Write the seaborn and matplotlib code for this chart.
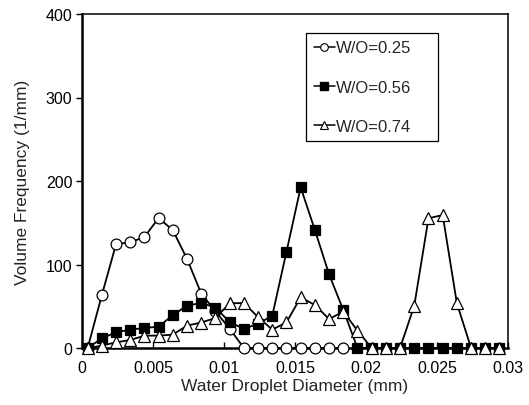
import numpy as np
import pandas as pd
import matplotlib
matplotlib.use("Agg")
import matplotlib.pyplot as plt
import seaborn as sns
from matplotlib.lines import Line2D

sns.set_style("ticks")
plt.rcParams['font.family'] = ['Liberation Sans', 'DejaVu Sans']

# Data (droplet diameter in mm)
diam_025 = [0.0004 + 0.001 * k for k in range(19)]
diam_all = [0.0004 + 0.001 * k for k in range(30)]
freq_025 = [0, 63.5, 124.5, 126.5, 133, 155.7, 141, 106.6, 65, 44, 23, 0, 0, 0, 0, 0, 0, 0, 0]
freq_056 = [0, 11.6, 18.8, 22, 24, 25.5, 39.5, 50.7, 54, 48.5, 31, 23, 29, 38.7, 115.3,
            192.4, 141.3, 88.2, 45.5, 0, 0, 0, 0, 0, 0, 0, 0, 0, 0, 0]
freq_074 = [0, 2.8, 6.8, 9.6, 14.8, 14.8, 16, 26.8, 30.5, 36, 53.5, 53.9, 37, 22, 30.7,
            60.7, 51.5, 34.7, 43.5, 20.8, 0, 0, 0, 50.7, 155.3, 159.3, 53.5, 0, 0, 0]
labels = ["W/O=0.25", "W/O=0.56", "W/O=0.74"]
xticks = [0, 0.005, 0.01, 0.015, 0.02, 0.025, 0.03]
xticklabels = ["0", "0.005", "0.01", "0.015", "0.02", "0.025", "0.03"]
yticks = [0, 100, 200, 300, 400]

fig = plt.figure(figsize=(5.29, 4.06), dpi=100)
ax = fig.add_axes([82/529, 1 - 349/406, 426/529, 334/406])

df1 = pd.DataFrame({"x": diam_025, "y": freq_025})
df2 = pd.DataFrame({"x": diam_all, "y": freq_056})
df3 = pd.DataFrame({"x": diam_all, "y": freq_074})

sns.lineplot(data=df1, x="x", y="y", ax=ax, color="black", lw=1.3, marker="o",
             markersize=7.8, markerfacecolor="white", markeredgecolor="black",
             markeredgewidth=0.9, zorder=3, clip_on=False)
sns.lineplot(data=df2, x="x", y="y", ax=ax, color="black", lw=1.3, marker="s",
             markersize=7.5, markerfacecolor="black", markeredgecolor="black",
             markeredgewidth=0.9, zorder=4, clip_on=False)
sns.lineplot(data=df3, x="x", y="y", ax=ax, color="black", lw=1.3, marker="^",
             markersize=8.2, markerfacecolor="white", markeredgecolor="black",
             markeredgewidth=0.9, zorder=5, clip_on=False)

ax.set_xlim(0, 0.03)
ax.set_ylim(0, 400)
ax.set_xticks(xticks)
ax.set_xticklabels(xticklabels)
ax.set_yticks(yticks)
ax.tick_params(axis="x", direction="in", length=4, width=1, pad=9, labelsize=11.5, colors="black")
ax.tick_params(axis="y", direction="out", length=4, width=1, pad=3, labelsize=11.5, colors="black")
for s in ax.spines.values():
    s.set_visible(True)
    s.set_color("black")
    s.set_linewidth(1.1)
ax.spines["left"].set_linewidth(1.8)
ax.spines["bottom"].set_linewidth(1.8)

ax.set_xlabel("Water Droplet Diameter (mm)", fontsize=12.5, labelpad=2)
ax.set_ylabel("Volume Frequency (1/mm)", fontsize=12.5, labelpad=11)

handles = [
    Line2D([], [], color="black", lw=1.1, marker="o", markersize=5.5, markerfacecolor="white", markeredgecolor="black", markeredgewidth=0.8),
    Line2D([], [], color="black", lw=1.1, marker="s", markersize=5.5, markerfacecolor="black", markeredgecolor="black"),
    Line2D([], [], color="black", lw=1.1, marker="^", markersize=6, markerfacecolor="white", markeredgecolor="black", markeredgewidth=0.8),
]
h = 107/334
leg = ax.legend(handles, labels, loc="upper left",
                bbox_to_anchor=((306-82)/426, (349-34)/334 - h, 132/426, h),
                mode="expand",
                frameon=True, fancybox=False, edgecolor="black", fontsize=12,
                handlelength=1.3, handletextpad=0.05, labelspacing=1.45,
                borderpad=0.45, borderaxespad=0, framealpha=1)
leg.get_frame().set_linewidth(0.9)

fig.savefig("out.png", dpi=100)
